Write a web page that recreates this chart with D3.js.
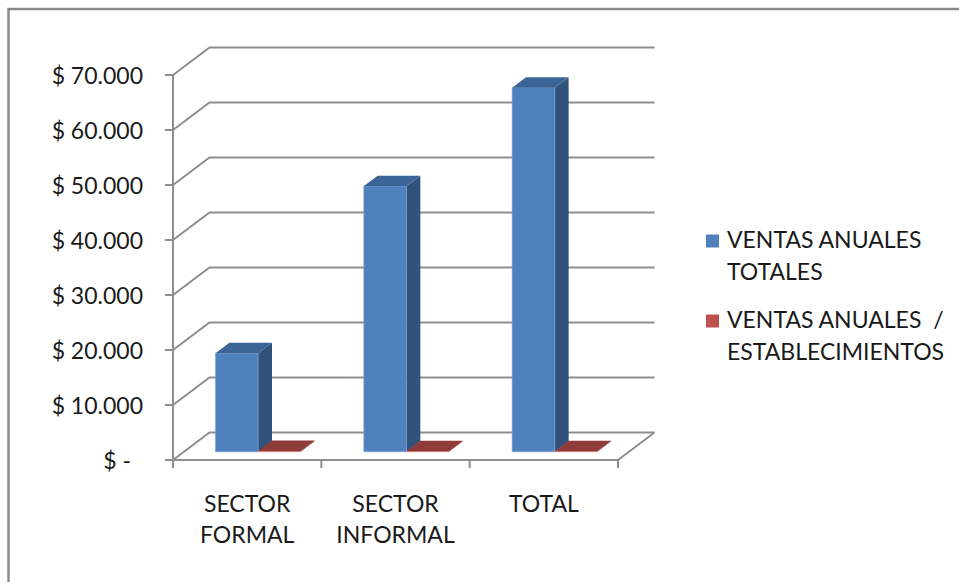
<!DOCTYPE html>
<html>
<head>
<meta charset="utf-8">
<script src="https://cdn.jsdelivr.net/npm/d3@7/dist/d3.min.js"></script>
<style>
  html, body { margin: 0; padding: 0; background: #fff; }
  svg { display: block; }
  text { font-family: Lato, "Open Sans", sans-serif; fill: #1a1a1a; }
</style>
</head>
<body>
<svg id="chart" width="959" height="582"></svg>
<script>
// ---- data ----
const categories = ["SECTOR FORMAL", "SECTOR INFORMAL", "TOTAL"];
const categoryLines = [["SECTOR", "FORMAL"], ["SECTOR", "INFORMAL"], ["TOTAL"]];
const seriesKeys = ["totales", "porEstablecimiento"];
const legendLines = [["VENTAS ANUALES", "TOTALES"], ["VENTAS ANUALES  /", "ESTABLECIMIENTOS"]];
const ventasTotales = [17900, 48300, 66200];
const ventasPorEstablecimiento = [150, 90, 110];
const yTickValues = [0, 10000, 20000, 30000, 40000, 50000, 60000, 70000];

// ---- styles ----
const seriesColors = {
  totales: { front: "#4F81BD", side: "#31527A", top: "#3B6596", edge: "#7AA0D0" },
  porEstablecimiento: { front: "#C0504D", side: "#7E3331", top: "#8F3B39", edge: "#D98A88" }
};
const gridColor = "#8E8E8E";

const svg = d3.select("#chart");

// outer frame
svg.append("rect")
  .attr("x", 8.5).attr("y", 9).attr("width", 1000).attr("height", 700)
  .attr("fill", "none").attr("stroke", "#8A8A8A").attr("stroke-width", 2.5);

// ---- scales ----
const plotLeft = 173, plotRight = 618, plotBottom = 460, plotTop = 75;
const y = d3.scaleLinear().domain([0, 70000]).range([plotBottom, plotTop]);
const x0 = d3.scaleBand().domain(categories).range([plotLeft, plotRight]);
const x1 = d3.scaleBand().domain(seriesKeys).range([0, x0.bandwidth()]).paddingInner(0).paddingOuter(0.74);

// pseudo-3D depth
const DX = 36.5, DY = -27.5;
const t0 = 0.3, t1 = 0.68;
const proj = (x, v, t) => [x + DX * t, y(v) + DY * t];
const pts = arr => arr.map(p => p.join(",")).join(" ");

// ---- gridlines (back wall) ----
const grid = svg.append("g");
yTickValues.forEach(v => {
  grid.append("polyline")
    .attr("points", pts([proj(plotLeft, v, 0), proj(plotLeft, v, 1), proj(plotRight, v, 1)]))
    .attr("fill", "none").attr("stroke", gridColor).attr("stroke-width", 2);
});
// floor right edge
grid.append("line")
  .attr("x1", proj(plotRight, 0, 0)[0]).attr("y1", proj(plotRight, 0, 0)[1])
  .attr("x2", proj(plotRight, 0, 1)[0]).attr("y2", proj(plotRight, 0, 1)[1])
  .attr("stroke", gridColor).attr("stroke-width", 2);

// ---- bars ----
const rows = categories.map((c, i) => ({ cat: c, totales: ventasTotales[i], porEstablecimiento: ventasPorEstablecimiento[i] }));
const bars = svg.append("g");
rows.forEach(r => {
  seriesKeys.forEach(k => {
    const v = r[k];
    const xa = x0(r.cat) + x1(k);
    const xb = xa + x1.bandwidth();
    const col = seriesColors[k];
    const g = bars.append("g");
    // side face
    g.append("polygon")
      .attr("points", pts([proj(xb, 0, t0), proj(xb, 0, t1), proj(xb, v, t1), proj(xb, v, t0)]))
      .attr("fill", col.side);
    // front face
    g.append("polygon")
      .attr("points", pts([proj(xa, 0, t0), proj(xb, 0, t0), proj(xb, v, t0), proj(xa, v, t0)]))
      .attr("fill", col.front).attr("stroke", col.edge).attr("stroke-width", 0.6);
    // top face
    g.append("polygon")
      .attr("points", pts([proj(xa, v, t0), proj(xb, v, t0), proj(xb, v, t1), proj(xa, v, t1)]))
      .attr("fill", col.top);
  });
});

// ---- axes ----
const axes = svg.append("g").attr("stroke", gridColor).attr("stroke-width", 2);
axes.append("line").attr("x1", plotLeft).attr("x2", plotLeft).attr("y1", y(70000)).attr("y2", plotBottom + 8);
axes.append("line").attr("x1", plotLeft).attr("x2", plotRight).attr("y1", plotBottom).attr("y2", plotBottom);
yTickValues.forEach(v => {
  axes.append("line").attr("x1", plotLeft - 8).attr("x2", plotLeft).attr("y1", y(v)).attr("y2", y(v));
});
const xBounds = categories.map(c => x0(c)).concat([plotRight]);
xBounds.forEach(xv => {
  axes.append("line").attr("x1", xv).attr("x2", xv).attr("y1", plotBottom).attr("y2", plotBottom + 8);
});

// y tick labels
const fmt = v => v === 0 ? "$ -" : "$ " + d3.format(",")(v).replace(/,/g, ".");
svg.append("g").selectAll("text").data(yTickValues).join("text")
  .attr("x", d => d === 0 ? 131 : 143)
  .attr("y", d => y(d) + 9)
  .attr("text-anchor", "end")
  .attr("font-size", 23)
  .text(fmt);

// category labels
categories.forEach((c, i) => {
  const cx = x0(c) + x0.bandwidth() / 2;
  categoryLines[i].forEach((line, j) => {
    svg.append("text")
      .attr("x", cx).attr("y", 511.5 + j * 31.7)
      .attr("text-anchor", "middle").attr("font-size", 23)
      .text(line);
  });
});

// legend
const legendY = [248, 328];
seriesKeys.forEach((k, i) => {
  svg.append("rect")
    .attr("x", 706).attr("y", legendY[i] - 13.5).attr("width", 13).attr("height", 13)
    .attr("fill", seriesColors[k].front);
  legendLines[i].forEach((line, j) => {
    svg.append("text")
      .attr("x", 727).attr("y", legendY[i] + j * 32)
      .attr("font-size", 23)
      .style("white-space", "pre")
      .text(line);
  });
});
</script>
</body>
</html>
